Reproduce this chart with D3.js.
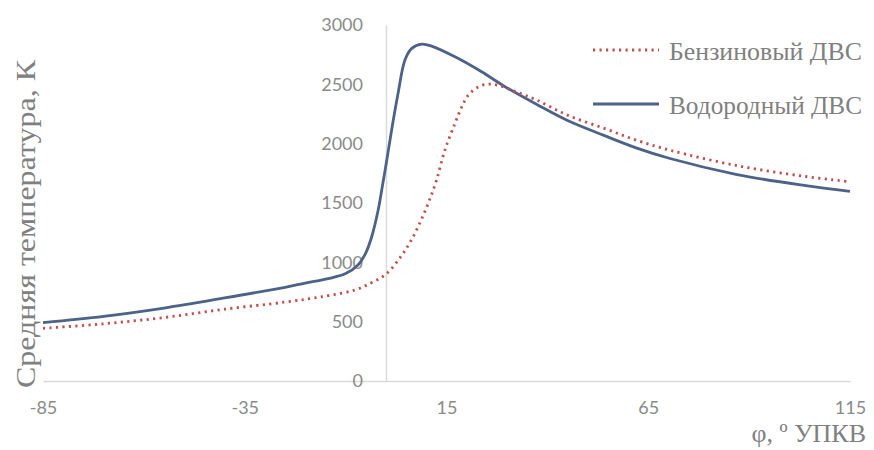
<!DOCTYPE html>
<html>
<head>
<meta charset="utf-8">
<script src="https://cdn.jsdelivr.net/npm/d3@7"></script>
<style>
  html, body { margin: 0; padding: 0; background: #fff; }
  svg { display: block; }
</style>
</head>
<body>
<svg id="chart" width="874" height="450"></svg>
<script>
// Crank angle, degrees, and mean cylinder temperature, K
const phiPetrol = [-85, -70, -55, -40, -25, -15, -7.7, -3.5, 0, 3.5, 6, 8.5, 10.5, 12.5, 14.6, 17.1, 18.8, 20.4, 22.9, 25.4, 28, 32, 37.4, 45, 54, 62, 70.4, 87, 103.6, 115];
const tempPetrol = [444, 482, 535, 605, 665, 715, 767, 830, 900, 1040, 1170, 1340, 1500, 1690, 1946, 2171, 2311, 2409, 2479, 2502, 2490, 2440, 2367, 2240, 2130, 2030, 1945, 1815, 1725, 1678];

const phiHydrogen = [-85, -70, -55, -40, -25, -20, -14, -10, -7, -5, -3.5, -2, -1, 0.2, 1.4, 3, 4.7, 6.4, 8.9, 11.3, 17.1, 23.7, 29.5, 37.4, 45, 54, 62, 70.4, 87, 103.6, 115];
const tempHydrogen = [492, 545, 615, 700, 790, 825, 865, 905, 975, 1080, 1220, 1430, 1620, 1862, 2115, 2424, 2705, 2803, 2839, 2822, 2732, 2606, 2480, 2330, 2195, 2070, 1965, 1875, 1740, 1648, 1598];

const xTicks = [-85, -35, 15, 65, 115];
const yTicks = [0, 500, 1000, 1500, 2000, 2500, 3000];

const seriesNames = ["Бензиновый ДВС", "Водородный ДВС"];
const yTitle = "Средняя температура, К";
const xTitle = "φ, º УПКВ";

const svg = d3.select("#chart");

const x = d3.scaleLinear().domain([-85, 115]).range([43, 850]);
const y = d3.scaleLinear().domain([0, 3000]).range([381, 25]);

const axisColor = "#d9d9d9";
const labelColor = "#8a8a8a";
const titleColor = "#808080";
const plainNumber = d => String(d);

// Horizontal axis crossing at T = 0
const gx = svg.append("g")
  .attr("transform", `translate(0,${y(0)})`)
  .call(d3.axisBottom(x).tickValues(xTicks).tickSize(0).tickPadding(20).tickFormat(plainNumber));
gx.select(".domain").attr("stroke", axisColor).attr("stroke-width", 1.5);
gx.selectAll("text")
  .attr("fill", labelColor)
  .style("font-family", "Lato, 'Liberation Sans', sans-serif")
  .style("font-size", "18px");

// Vertical axis crossing at φ = 0
const gy = svg.append("g")
  .attr("transform", `translate(${x(0)},0)`)
  .call(d3.axisLeft(y).tickValues(yTicks).tickSize(0).tickPadding(23).tickFormat(plainNumber));
gy.select(".domain").attr("stroke", axisColor).attr("stroke-width", 1.5);
gy.selectAll("text")
  .attr("fill", labelColor)
  .style("font-family", "Lato, 'Liberation Sans', sans-serif")
  .style("font-size", "18px");

const line = d3.line()
  .x(d => x(d[0]))
  .y(d => y(d[1]))
  .curve(d3.curveCatmullRom.alpha(0.5));

const hydrogen = phiHydrogen.map((p, i) => [p, tempHydrogen[i]]);
const petrol = phiPetrol.map((p, i) => [p, tempPetrol[i]]);

const solidStyle = { stroke: "#4d6289", width: 2.8, dash: null };
const dotStyle = { stroke: "#c0504d", width: 2.8, dash: "2.2,4.3" };

svg.append("path")
  .datum(hydrogen)
  .attr("d", line)
  .attr("fill", "none")
  .attr("stroke", solidStyle.stroke)
  .attr("stroke-width", solidStyle.width);

svg.append("path")
  .datum(petrol)
  .attr("d", line)
  .attr("fill", "none")
  .attr("stroke", dotStyle.stroke)
  .attr("stroke-width", dotStyle.width)
  .attr("stroke-dasharray", dotStyle.dash);

// Legend
const legend = svg.append("g");
const legendRows = [
  { name: seriesNames[0], style: dotStyle, y: 50 },
  { name: seriesNames[1], style: solidStyle, y: 104 }
];
legendRows.forEach(r => {
  legend.append("line")
    .attr("x1", 593).attr("x2", 659)
    .attr("y1", r.y).attr("y2", r.y)
    .attr("stroke", r.style.stroke)
    .attr("stroke-width", r.style.width)
    .attr("stroke-dasharray", r.style.dash);
  legend.append("text")
    .attr("x", 669).attr("y", r.y + 10)
    .attr("fill", titleColor)
    .attr("textLength", 193)
    .attr("lengthAdjust", "spacingAndGlyphs")
    .style("font-family", "'Liberation Serif', serif")
    .style("font-size", "25px")
    .text(r.name);
});

// Axis titles
svg.append("text")
  .attr("transform", "translate(35,388) rotate(-90)")
  .attr("fill", titleColor)
  .attr("textLength", 328)
  .attr("lengthAdjust", "spacingAndGlyphs")
  .style("font-family", "'Liberation Serif', serif")
  .style("font-size", "27px")
  .text(yTitle);

svg.append("text")
  .attr("x", 866).attr("y", 442)
  .attr("text-anchor", "end")
  .attr("fill", titleColor)
  .style("font-family", "'Liberation Serif', serif")
  .style("font-size", "26px")
  .text(xTitle);
</script>
</body>
</html>
